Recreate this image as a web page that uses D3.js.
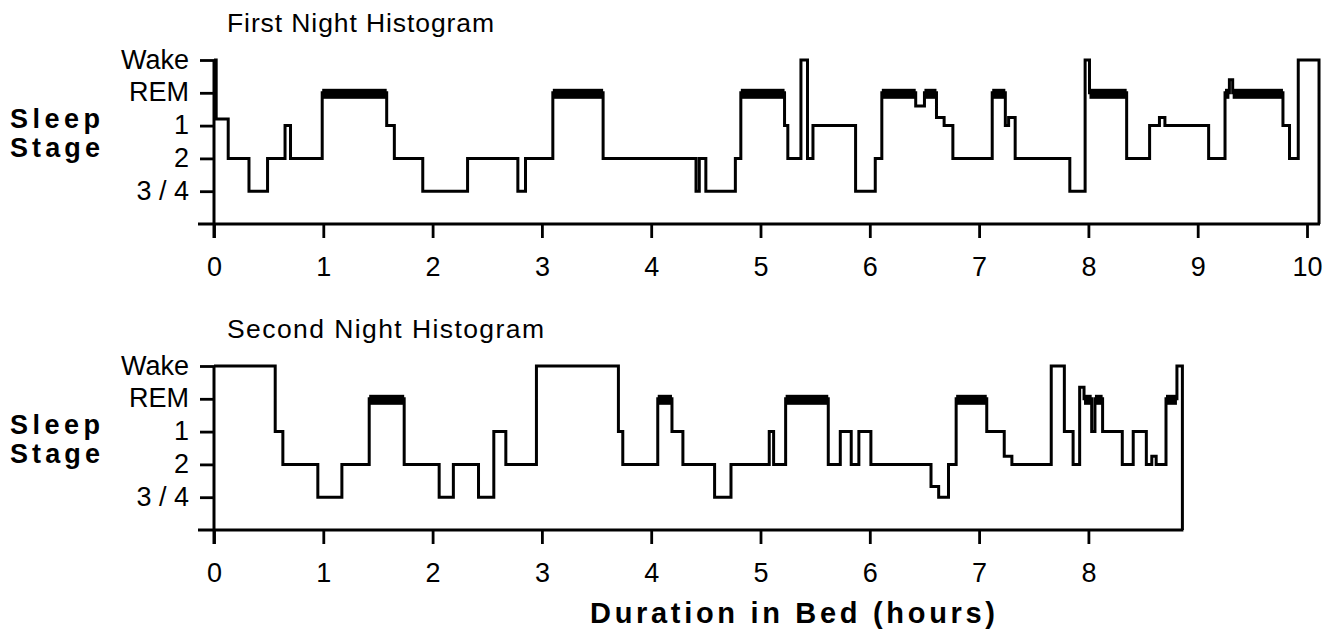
<!DOCTYPE html>
<html>
<head>
<meta charset="utf-8">
<script src="https://cdn.jsdelivr.net/npm/d3@7"></script>
<style>
  body { margin: 0; background: #fff; }
  text { font-family: "Liberation Sans", Arial, Helvetica, sans-serif; fill: #000; }
</style>
</head>
<body>
<div id="chart"></div>
<script>
// stage codes: 5 = Wake, 4 = REM, 3 = stage 1, 2 = stage 2, 1 = stage 3/4
const stageLabels = ["3 / 4", "2", "1", "REM", "Wake"];
const stageLevels = [1, 2, 3, 4, 5];

// first night: start of each step (hours) and its stage
const night1Times = [0, 0.02, 0.13, 0.32, 0.49, 0.65, 0.70, 0.99, 1.58, 1.65,
                     1.91, 2.32, 2.78, 2.85, 3.10, 3.56, 4.41, 4.44, 4.50, 4.77,
                     4.82, 5.22, 5.25, 5.37, 5.43, 5.48, 5.87, 6.05, 6.11, 6.42,
                     6.50, 6.61, 6.68, 6.76, 7.12, 7.24, 7.27, 7.33, 7.83, 7.97,
                     8.01, 8.35, 8.56, 8.65, 8.70, 9.10, 9.25, 9.29, 9.32, 9.78,
                     9.84, 9.92];
const night1Stages = [5, 3.2, 2, 1, 2, 3, 2, 4, 3, 2,
                      1, 2, 1, 2, 4, 2, 1, 2, 1, 2,
                      4, 3, 2, 5, 2, 3, 1, 2, 4, 3.6,
                      4, 3.25, 3, 2, 4, 3, 3.25, 2, 1, 5,
                      4, 2, 3, 3.25, 3, 2, 4, 4.4, 4, 3,
                      2, 5];
const night1End = 10.11;

// second night
const night2Times = [0, 0.56, 0.63, 0.95, 1.17, 1.42, 1.74, 2.06, 2.19, 2.42,
                     2.56, 2.67, 2.95, 3.70, 3.74, 4.06, 4.19, 4.29, 4.58, 4.73,
                     5.08, 5.12, 5.23, 5.62, 5.73, 5.83, 5.90, 6.01, 6.56, 6.63,
                     6.72, 6.79, 7.07, 7.23, 7.30, 7.66, 7.78, 7.86, 7.92, 7.96,
                     8.03, 8.06, 8.13, 8.31, 8.41, 8.53, 8.58, 8.62, 8.71, 8.81];
const night2Stages = [5, 3, 2, 1, 2, 4, 2, 1, 2, 1,
                      3, 2, 5, 3, 2, 4, 3, 2, 1, 2,
                      3, 2, 4, 2, 3, 2, 3, 2, 1.33, 1,
                      2, 4, 3, 2.25, 2, 5, 3, 2, 4.35, 4,
                      3, 4, 3, 2, 3, 2, 2.25, 2, 4, 5];
const night2End = 8.86;

const hourTicks1 = [0, 1, 2, 3, 4, 5, 6, 7, 8, 9, 10];
const hourTicks2 = [0, 1, 2, 3, 4, 5, 6, 7, 8];

const W = 1334, H = 634;
const FONT = "Liberation Sans, Arial, Helvetica, sans-serif";
const svg = d3.select("#chart").append("svg")
    .attr("width", W)
    .attr("height", H);

svg.append("rect").attr("width", W).attr("height", H).attr("fill", "#fff");

const x = d3.scaleLinear().domain([0, 10]).range([214, 1307]);

function drawNight(title, titleWidth, times, stages, end, ticks, top) {
  const axisY = top + 164;
  const y = d3.scaleLinear().domain([0, 5]).range([axisY, top]);
  const g = svg.append("g");

  const pts = times.map(function(t, i) { return {t: t, s: stages[i]}; });
  pts.push({t: end, s: 0});

  // title
  g.append("text")
      .attr("x", 227)
      .attr("y", top - 28)
      .attr("font-size", 26.5)
      .attr("textLength", titleWidth)
      .attr("lengthAdjust", "spacing")
      .text(title);

  // side label
  const side = g.append("text")
      .attr("font-size", 27)
      .attr("font-weight", "bold");
  side.append("tspan").attr("x", 10).attr("y", y(3) + 2)
      .attr("textLength", 90).attr("lengthAdjust", "spacing").text("Sleep");
  side.append("tspan").attr("x", 10).attr("y", y(2) - 1)
      .attr("textLength", 90).attr("lengthAdjust", "spacing").text("Stage");

  // y axis
  const yAxis = g.append("g")
      .attr("transform", "translate(" + x(0) + ",0)")
      .call(d3.axisLeft(y)
        .tickValues(stageLevels)
        .tickFormat(function(d) { return stageLabels[d - 1]; })
        .tickSize(14)
        .tickSizeOuter(0)
        .tickPadding(11));
  yAxis.select(".domain").remove();
  yAxis.selectAll(".tick line").attr("stroke", "#000").attr("stroke-width", 2.8);
  yAxis.selectAll(".tick text")
      .attr("font-size", 27)
      .attr("font-family", FONT)
      .attr("dy", "0.3em")
      .attr("fill", "#000");

  // x axis
  const xAxis = g.append("g")
      .attr("transform", "translate(0," + axisY + ")")
      .call(d3.axisBottom(x)
        .tickValues(ticks)
        .tickFormat(d3.format("d"))
        .tickSize(14)
        .tickSizeOuter(0)
        .tickPadding(19));
  xAxis.select(".domain").remove();
  xAxis.selectAll(".tick line").attr("stroke", "#000").attr("stroke-width", 2.8);
  xAxis.selectAll(".tick text")
      .attr("font-size", 27)
      .attr("font-family", FONT)
      .attr("fill", "#000");

  // axis lines
  g.append("line")
      .attr("x1", x(0) - 16).attr("x2", x(end) + 1)
      .attr("y1", axisY).attr("y2", axisY)
      .attr("stroke", "#000").attr("stroke-width", 3);
  g.append("line")
      .attr("x1", x(0)).attr("x2", x(0))
      .attr("y1", y(5)).attr("y2", axisY + 14)
      .attr("stroke", "#000").attr("stroke-width", 3);

  // hypnogram trace
  const line = d3.line()
      .x(function(d) { return x(d.t); })
      .y(function(d) { return y(d.s); })
      .curve(d3.curveStepAfter);

  g.append("path")
      .datum(pts)
      .attr("d", line)
      .attr("fill", "none")
      .attr("stroke", "#000")
      .attr("stroke-width", 3)
      .attr("stroke-linejoin", "miter");

  // REM periods drawn as heavy bars
  const rem = pts.slice(0, -1)
      .map(function(d, i) { return {t0: d.t, t1: pts[i + 1].t, s: d.s}; })
      .filter(function(d) { return d.s === 4; });

  g.selectAll("rect.rem")
      .data(rem)
      .enter()
      .append("rect")
      .attr("class", "rem")
      .attr("x", function(d) { return x(d.t0); })
      .attr("width", function(d) { return x(d.t1) - x(d.t0); })
      .attr("y", y(4) - 4)
      .attr("height", 10)
      .attr("fill", "#000");
}

drawNight("First Night Histogram", 267, night1Times, night1Stages, night1End, hourTicks1, 60);
drawNight("Second Night Histogram", 317, night2Times, night2Stages, night2End, hourTicks2, 366);

svg.append("text")
    .attr("x", 590)
    .attr("y", 623)
    .attr("font-size", 29)
    .attr("font-weight", "bold")
    .attr("textLength", 405)
    .attr("lengthAdjust", "spacing")
    .text("Duration in Bed (hours)");
</script>
</body>
</html>
